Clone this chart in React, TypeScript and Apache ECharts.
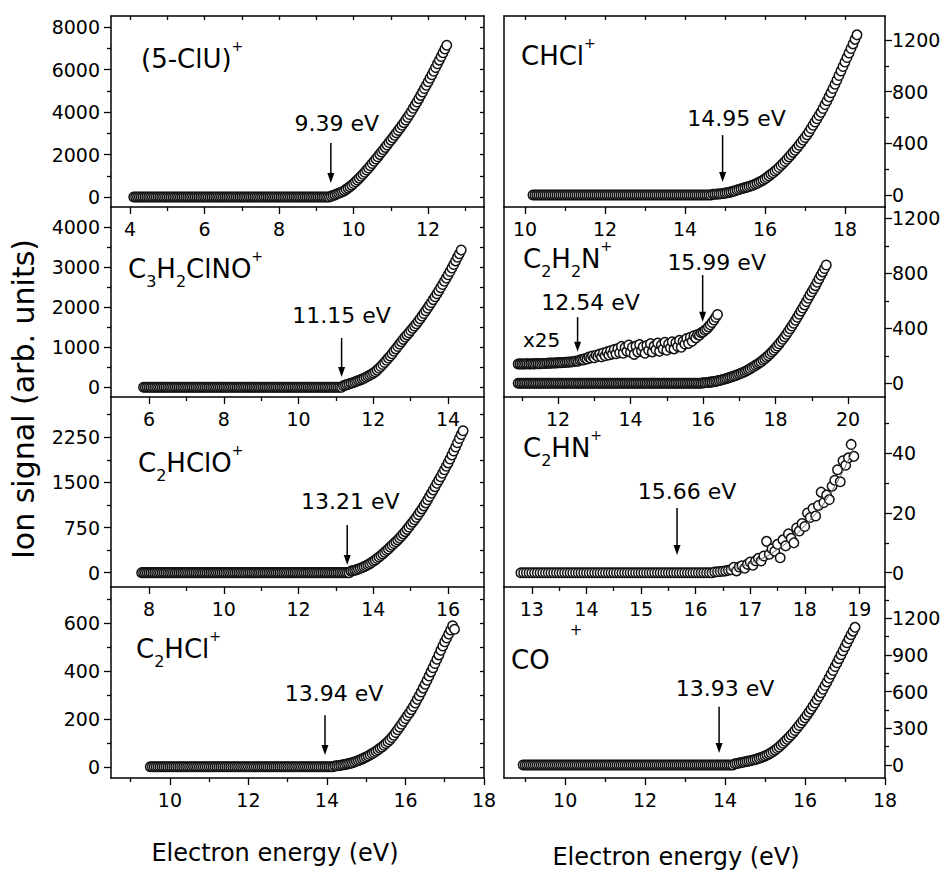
import React, { useEffect, useRef } from "react";
import * as echarts from "echarts";

const FONT = "DejaVu Sans";

// ===================== DATA =====================
// (5-ClU)+  — energy grid start / step (eV), signal values
const cluStart = 4.1;
const cluStep = 0.05;
const cluSignal = [
  0,0,0,0,0,0,0,0,0,0, 0,0,0,0,0,0,0,0,0,0,
  0,0,0,0,0,0,0,0,0,0, 0,0,0,0,0,0,0,0,0,0,
  0,0,0,0,0,0,0,0,0,0, 0,0,0,0,0,0,0,0,0,0,
  0,0,0,0,0,0,0,0,0,0, 0,0,0,0,0,0,0,0,0,0,
  0,0,0,0,0,0,0,0,0,0, 0,0,0,0,0,0,0,0,0,0,
  0,0,0,0,0,0,
  40, 70, 100, 140, 180, 215, 250, 300, 360, 420,
  490, 560, 640, 720, 800, 890, 980, 1075, 1170, 1270,
  1370, 1475, 1580, 1685, 1790, 1900, 2010, 2120, 2230, 2340,
  2450, 2565, 2680, 2795, 2910, 3025, 3140, 3260, 3380, 3505,
  3630, 3760, 3890, 4030, 4180, 4330, 4480, 4635, 4790, 4950,
  5110, 5270, 5430, 5595, 5760, 5930, 6100, 6275, 6450, 6625,
  6800, 6975, 7150,
];

// C3H2ClNO+
const c3Start = 5.85;
const c3Step = 0.05;
const c3Signal = [
  0,0,0,0,0,0,0,0,0,0, 0,0,0,0,0,0,0,0,0,0,
  0,0,0,0,0,0,0,0,0,0, 0,0,0,0,0,0,0,0,0,0,
  0,0,0,0,0,0,0,0,0,0, 0,0,0,0,0,0,0,0,0,0,
  0,0,0,0,0,0,0,0,0,0, 0,0,0,0,0,0,0,0,0,0,
  0,0,0,0,0,0,0,0,0,0, 0,0,0,0,0,0,0,0,0,0,
  0,0,0,0,0,0,0,
  40, 55, 70, 85, 100, 115, 132, 150, 168, 185,
  205, 225, 250, 275, 300, 325, 355, 390, 430, 475,
  520, 570, 620, 675, 730, 785, 840, 900, 960, 1020,
  1080, 1140, 1198, 1255, 1310, 1365, 1420, 1475, 1532, 1590,
  1650, 1715, 1780, 1845, 1912, 1980, 2050, 2120, 2192, 2265,
  2340, 2415, 2492, 2570, 2650, 2730, 2812, 2895, 2982, 3070,
  3160, 3250, 3340, 3430,
];

// C2HClO+
const c2hcloStart = 7.8;
const c2hcloStep = 0.05;
const c2hcloSignal = [
  0,0,0,0,0,0,0,0,0,0, 0,0,0,0,0,0,0,0,0,0,
  0,0,0,0,0,0,0,0,0,0, 0,0,0,0,0,0,0,0,0,0,
  0,0,0,0,0,0,0,0,0,0, 0,0,0,0,0,0,0,0,0,0,
  0,0,0,0,0,0,0,0,0,0, 0,0,0,0,0,0,0,0,0,0,
  0,0,0,0,0,0,0,0,0,0, 0,0,0,0,0,0,0,0,0,0,
  0,0,0,0,0,0,0,0,0,0, 0,0,
  25, 32, 40, 50, 60, 72, 85, 100, 115, 132,
  150, 170, 190, 212, 235, 260, 285, 312, 340, 368,
  395, 425, 455, 485, 515, 545, 575, 610, 645, 682,
  720, 760, 800, 840, 880, 922, 965, 1012, 1060, 1110,
  1160, 1212, 1265, 1320, 1375, 1430, 1485, 1540, 1595, 1652,
  1710, 1768, 1825, 1890, 1955, 2022, 2090, 2160, 2230, 2295,
  2360,
];

// C2HCl+
const c2hclStart = 9.5;
const c2hclStep = 0.05;
const c2hclSignal = [
  0,0,0,0,0,0,0,0,0,0, 0,0,0,0,0,0,0,0,0,0,
  0,0,0,0,0,0,0,0,0,0, 0,0,0,0,0,0,0,0,0,0,
  0,0,0,0,0,0,0,0,0,0, 0,0,0,0,0,0,0,0,0,0,
  0,0,0,0,0,0,0,0,0,0, 0,0,0,0,0,0,0,0,0,0,
  0,0,0,0,0,0,0,0,0,0, 0,0,0,0,
  3, 4, 5, 6, 8, 9, 11, 13, 15, 17,
  20, 23, 26, 29, 33, 37, 41, 45, 50, 55,
  60, 65, 71, 77, 83, 90, 97, 105, 113, 122,
  132, 143, 155, 166, 178, 190, 202, 214, 226, 239,
  252, 267, 282, 297, 313, 329, 345, 362, 380, 397,
  414, 432, 450, 468, 487, 505, 523, 539, 555, 572,
  590, 575,
];

// CHCl+
const chclStart = 10.2;
const chclStep = 0.05;
const chclSignal = [
  0,0,0,0,0,0,0,0,0,0, 0,0,0,0,0,0,0,0,0,0,
  0,0,0,0,0,0,0,0,0,0, 0,0,0,0,0,0,0,0,0,0,
  0,0,0,0,0,0,0,0,0,0, 0,0,0,0,0,0,0,0,0,0,
  0,0,0,0,0,0,0,0,0,0, 0,0,0,0,0,0,0,0,0,0,
  0,0,0,0,0,0,0,0,0,0,
  5, 6, 7, 8, 10, 12, 14, 17, 20, 24,
  28, 33, 38, 43, 48, 52, 57, 61, 66, 71,
  76, 83, 90, 98, 106, 115, 125, 136, 148, 160,
  172, 185, 198, 213, 228, 244, 260, 277, 295, 312,
  330, 347, 365, 385, 405, 425, 445, 467, 490, 515,
  540, 565, 590, 615, 640, 670, 700, 730, 760, 792,
  825, 857, 890, 925, 960, 995, 1030, 1065, 1100, 1135,
  1170, 1205, 1240,
];

// C2H2N+ (main) and x25 magnified trace
const c2h2nStart = 10.9;
const c2h2nStep = 0.05;
const c2h2nSignal = [
  0,0,0,0,0,0,0,0,0,0, 0,0,0,0,0,0,0,0,0,0,
  0,0,0,0,0,0,0,0,0,0, 0,0,0,0,0,0,0,0,0,0,
  0,0,0,0,0,0,0,0,0,0, 0,0,0,0,0,0,0,0,0,0,
  0,0,0,0,0,0,0,0,0,0, 0,0,0,0,0,0,0,0,0,0,
  0,0,0,0,0,0,0,0,0,0, 0,0,0,0,0,0,0,0,0,0,
  0,0,
  3, 4, 5, 6, 8, 10, 12, 14, 17, 20,
  23, 27, 31, 35, 39, 43, 48, 52, 57, 62,
  67, 72, 78, 84, 91, 98, 106, 114, 122, 130,
  139, 148, 157, 167, 178, 189, 201, 214, 227, 241,
  256, 271, 287, 303, 320, 338, 357, 376, 396, 416,
  437, 458, 480, 502, 525, 547, 570, 594, 618, 642,
  666, 688, 710, 735, 760, 785, 810, 835, 860,
];
const c2h2nX25Start = 10.9;
const c2h2nX25Step = 0.05;
const c2h2nX25Signal = [
  140, 141, 140, 140, 141, 142, 140, 141, 142, 141,
  143, 142, 142, 143, 144, 144, 145, 146, 146, 147,
  147, 148, 149, 150, 150, 151, 152, 153, 154, 155,
  156, 158, 162, 160, 168, 172, 170, 180, 176, 190,
  184, 198, 186, 204, 195, 212, 192, 220, 200, 228,
  205, 236, 212, 245, 215, 252, 222, 268, 218, 260,
  232, 278, 225, 262, 210, 270, 228, 282, 236, 265,
  218, 275, 240, 288, 228, 270, 246, 292, 232, 278,
  250, 298, 240, 285, 258, 302, 250, 295, 268, 312,
  262, 305, 285, 325, 290, 335, 305, 345, 330, 355,
  350, 368, 372, 385, 395, 410, 425, 442, 460, 480,
  500,
];

// C2HN+
const c2hnStart = 12.8;
const c2hnStep = 0.05;
const c2hnSignal = [
  0,0,0,0,0,0,0,0,0,0, 0,0,0,0,0,0,0,0,0,0,
  0,0,0,0,0,0,0,0,0,0, 0,0,0,0,0,0,0,0,0,0,
  0,0,0,0,0,0,0,0,0,0, 0,0,0,0,0,0,0,0,0,0,
  0,0,0,0,0,0,0,0,0,0, 0,
  0.2, 0.3, 0.4, 0.5, 0.6, 0.8, 1.0, 1.8, 0.6, 1.9,
  2.3, 1.5, 2.8, 3.6, 2.5, 4.0, 4.8, 3.9, 5.6, 10.5,
  6.2, 8.0, 7.2, 9.5, 5.0, 11.0, 9.0, 13.0, 11.5, 10.0,
  15.0, 14.0, 16.5, 15.5, 20.0, 18.5, 21.5, 19.0, 22.5, 27.0,
  23.5, 26.0, 24.5, 29.0, 31.0, 34.5, 30.5, 37.5, 36.0, 38.5,
  43.0, 39.0,
];
const c2hnFitE = [16.0, 16.5, 17.0, 17.5, 18.0, 18.5, 18.9];
const c2hnFitY = [0, 0.8, 3.2, 7.8, 15.8, 27.5, 42];

// CO+
const coStart = 8.95;
const coStep = 0.05;
const coSignal = [
  0,0,0,0,0,0,0,0,0,0, 0,0,0,0,0,0,0,0,0,0,
  0,0,0,0,0,0,0,0,0,0, 0,0,0,0,0,0,0,0,0,0,
  0,0,0,0,0,0,0,0,0,0, 0,0,0,0,0,0,0,0,0,0,
  0,0,0,0,0,0,0,0,0,0, 0,0,0,0,0,0,0,0,0,0,
  0,0,0,0,0,0,0,0,0,0, 0,0,0,0,0,0,0,0,0,0,
  0,0,0,0,0,0,
  10, 13, 17, 20, 23, 27, 30, 33, 37, 41,
  45, 50, 55, 61, 67, 74, 82, 91, 100, 111,
  122, 135, 148, 163, 178, 194, 210, 227, 245, 264,
  283, 303, 323, 344, 365, 387, 410, 433, 457, 482,
  508, 535, 562, 591, 620, 650, 680, 711, 742, 773,
  805, 837, 870, 902, 935, 967, 1000, 1032, 1065, 1095,
  1126,
];

// ===================== TICKS =====================
const cluXTicks = [4, 6, 8, 10, 12];
const cluXMinor = [5, 7, 9, 11, 13];
const cluYTicks = [0, 2000, 4000, 6000, 8000];
const cluYMinor = [1000, 3000, 5000, 7000];

const c3XTicks = [6, 8, 10, 12, 14];
const c3XMinor = [7, 9, 11, 13];
const c3YTicks = [0, 1000, 2000, 3000, 4000];
const c3YMinor = [500, 1500, 2500, 3500];

const c2hcloXTicks = [8, 10, 12, 14, 16];
const c2hcloXMinor = [9, 11, 13, 15];
const c2hcloYTicks = [0, 750, 1500, 2250];
const c2hcloYMinor = [375, 1125, 1875, 2625];

const c2hclXTicks = [10, 12, 14, 16, 18];
const c2hclXMinor = [9, 11, 13, 15, 17];
const c2hclYTicks = [0, 200, 400, 600];
const c2hclYMinor = [100, 300, 500, 700];

const chclXTicks = [10, 12, 14, 16, 18];
const chclXMinor = [11, 13, 15, 17];
const chclYTicks = [0, 400, 800, 1200];
const chclYMinor = [200, 600, 1000];

const c2h2nXTicks = [12, 14, 16, 18, 20];
const c2h2nXMinor = [11, 13, 15, 17, 19];
const c2h2nYTicks = [0, 400, 800, 1200];
const c2h2nYMinor = [200, 600, 1000];

const c2hnXTicks = [13, 14, 15, 16, 17, 18, 19];
const c2hnXMinor = [13.5, 14.5, 15.5, 16.5, 17.5, 18.5];
const c2hnYTicks = [0, 20, 40];
const c2hnYMinor = [10, 30, 50];

const coXTicks = [10, 12, 14, 16, 18];
const coXMinor = [9, 11, 13, 15, 17];
const coYTicks = [0, 300, 600, 900, 1200];
const coYMinor = [150, 450, 750, 1050, 1350];

// ===================== ANNOTATIONS (data coords) =====================
const cluArrows = [{ x: 9.39, top: 2540, bottom: 660, text: "9.39 eV", dx: 6, dy: -20 }];
const c3Arrows = [{ x: 11.15, top: 1232, bottom: 258, text: "11.15 eV", dx: 0, dy: -23 }];
const c2hcloArrows = [{ x: 13.3, top: 793, bottom: 128, text: "13.21 eV", dx: 3, dy: -23 }];
const c2hclArrows = [{ x: 13.95, top: 216, bottom: 49, text: "13.94 eV", dx: 9, dy: -22 }];
const chclArrows = [{ x: 14.94, top: 464, bottom: 100, text: "14.95 eV", dx: 14, dy: -17 }];
const c2h2nArrows = [
  { x: 15.99, top: 787, bottom: 448, text: "15.99 eV", dx: 14, dy: -13 },
  { x: 12.54, top: 482, bottom: 230, text: "12.54 eV", dx: 13, dy: -14 },
];
const c2hnArrows = [{ x: 15.66, top: 21.7, bottom: 5.9, text: "15.66 eV", dx: 10, dy: -16 }];
const coArrows = [{ x: 13.85, top: 477, bottom: 98, text: "13.93 eV", dx: 6, dy: -18 }];

// ===================== LAYOUT =====================
const COL_LEFT = [111, 504];
const COL_W = [373, 381];
const ROW_TOP = [16, 207, 397, 587];
const ROW_H = [191, 190, 190, 191];

type Arrow = { x: number; top: number; bottom: number; text: string; dx: number; dy: number };
type Trace = { start: number; step: number; values: number[] };
type Panel = {
  col: number;
  row: number;
  xRange: [number, number];
  xTicks: number[];
  xMinor: number[];
  yRange: [number, number];
  yTicks: number[];
  yMinor: number[];
  traces: Trace[];
  fit?: { x: number[]; y: number[] };
  label: string;
  labelPos: [number, number];
  arrows: Arrow[];
};

const panels: Panel[] = [
  {
    col: 0, row: 0, xRange: [3.49, 13.5], xTicks: cluXTicks, xMinor: cluXMinor,
    yRange: [-470, 8530], yTicks: cluYTicks, yMinor: cluYMinor,
    traces: [{ start: cluStart, step: cluStep, values: cluSignal }],
    label: "(5-ClU){p|+}", labelPos: [141, 59], arrows: cluArrows,
  },
  {
    col: 0, row: 1, xRange: [4.98, 14.96], xTicks: c3XTicks, xMinor: c3XMinor,
    yRange: [-242, 4507], yTicks: c3YTicks, yMinor: c3YMinor,
    traces: [{ start: c3Start, step: c3Step, values: c3Signal }],
    label: "C{b|3}H{b|2}ClNO{p|+}", labelPos: [128, 269], arrows: c3Arrows,
  },
  {
    col: 0, row: 2, xRange: [6.98, 16.96], xTicks: c2hcloXTicks, xMinor: c2hcloXMinor,
    yRange: [-238, 2920], yTicks: c2hcloYTicks, yMinor: c2hcloYMinor,
    traces: [{ start: c2hcloStart, step: c2hcloStep, values: c2hcloSignal }],
    label: "C{b|2}HClO{p|+}", labelPos: [138, 463], arrows: c2hcloArrows,
  },
  {
    col: 0, row: 3, xRange: [8.5, 18], xTicks: c2hclXTicks, xMinor: c2hclXMinor,
    yRange: [-47, 752], yTicks: c2hclYTicks, yMinor: c2hclYMinor,
    traces: [{ start: c2hclStart, step: c2hclStep, values: c2hclSignal }],
    label: "C{b|2}HCl{p|+}", labelPos: [136, 649], arrows: c2hclArrows,
  },
  {
    col: 1, row: 0, xRange: [9.475, 19.0], xTicks: chclXTicks, xMinor: chclXMinor,
    yRange: [-93, 1386], yTicks: chclYTicks, yMinor: chclYMinor,
    traces: [{ start: chclStart, step: chclStep, values: chclSignal }],
    label: "CHCl{p|+}", labelPos: [521, 56], arrows: chclArrows,
  },
  {
    col: 1, row: 1, xRange: [10.51, 21.02], xTicks: c2h2nXTicks, xMinor: c2h2nXMinor,
    yRange: [-100, 1282], yTicks: c2h2nYTicks, yMinor: c2h2nYMinor,
    traces: [
      { start: c2h2nStart, step: c2h2nStep, values: c2h2nSignal },
      { start: c2h2nX25Start, step: c2h2nX25Step, values: c2h2nX25Signal },
    ],
    label: "C{b|2}H{b|2}N{p|+}", labelPos: [523, 259], arrows: c2h2nArrows,
  },
  {
    col: 1, row: 2, xRange: [12.49, 19.47], xTicks: c2hnXTicks, xMinor: c2hnXMinor,
    yRange: [-4.8, 58.9], yTicks: c2hnYTicks, yMinor: c2hnYMinor,
    traces: [{ start: c2hnStart, step: c2hnStep, values: c2hnSignal }],
    fit: { x: c2hnFitE, y: c2hnFitY },
    label: "C{b|2}HN{p|+}", labelPos: [523, 448], arrows: c2hnArrows,
  },
  {
    col: 1, row: 3, xRange: [8.47, 18.0], xTicks: coXTicks, xMinor: coXMinor,
    yRange: [-106, 1456], yTicks: coYTicks, yMinor: coYMinor,
    traces: [{ start: coStart, step: coStep, values: coSignal }],
    label: "CO", labelPos: [511, 660], arrows: coArrows,
  },
];

function pairs(t: Trace) {
  return t.values.map((v, i) => [Math.round((t.start + i * t.step) * 1000) / 1000, v]);
}

const fmt = (v: number) => String(v);
const LINE = { color: "#000", width: 1.5 };
const TICK = { color: "#000", width: 1.3 };
const LABEL = { fontFamily: FONT, fontSize: 19, color: "#000" };

function buildOption() {
  const grid: any[] = [];
  const xAxis: any[] = [];
  const yAxis: any[] = [];
  const series: any[] = [];
  const mainSeries: number[] = [];

  panels.forEach((p, g) => {
    grid.push({ left: COL_LEFT[p.col], width: COL_W[p.col], top: ROW_TOP[p.row], height: ROW_H[p.row] });
    const xMain = xAxis.length;
    xAxis.push({
      type: "value", gridIndex: g, position: "bottom", min: p.xRange[0], max: p.xRange[1],
      axisLine: { show: true, onZero: false, lineStyle: LINE },
      axisTick: { show: true, inside: false, length: 7, customValues: p.xTicks, lineStyle: TICK },
      axisLabel: { show: true, customValues: p.xTicks, formatter: fmt, margin: 12, ...LABEL },
      splitLine: { show: false },
    });
    xAxis.push({
      type: "value", gridIndex: g, position: "bottom", min: p.xRange[0], max: p.xRange[1],
      axisLine: { show: false, onZero: false },
      axisTick: { show: true, inside: false, length: 4, customValues: p.xMinor, lineStyle: TICK },
      axisLabel: { show: false },
      splitLine: { show: false },
    });
    if (p.row === 0) {
      xAxis.push({
        type: "value", gridIndex: g, position: "top", min: p.xRange[0], max: p.xRange[1],
        axisLine: { show: true, onZero: false, lineStyle: LINE },
        axisTick: { show: true, inside: true, length: 4, customValues: [...p.xTicks, ...p.xMinor], lineStyle: TICK },
        axisLabel: { show: false },
        splitLine: { show: false },
      });
    }
    const side = p.col === 0 ? "left" : "right";
    const other = p.col === 0 ? "right" : "left";
    const yMain = yAxis.length;
    yAxis.push({
      type: "value", gridIndex: g, position: side, min: p.yRange[0], max: p.yRange[1],
      axisLine: { show: true, onZero: false, lineStyle: LINE },
      axisTick: { show: true, inside: false, length: 7, customValues: p.yTicks, lineStyle: TICK },
      axisLabel: { show: true, customValues: p.yTicks, formatter: fmt, margin: p.col === 0 ? 11 : 7, ...LABEL },
      splitLine: { show: false },
    });
    yAxis.push({
      type: "value", gridIndex: g, position: side, min: p.yRange[0], max: p.yRange[1],
      axisLine: { show: false, onZero: false },
      axisTick: { show: true, inside: false, length: 4, customValues: p.yMinor, lineStyle: TICK },
      axisLabel: { show: false },
      splitLine: { show: false },
    });
    yAxis.push({
      type: "value", gridIndex: g, position: other, min: p.yRange[0], max: p.yRange[1],
      axisLine: { show: true, onZero: false, lineStyle: LINE },
      axisTick: p.col === 0
        ? { show: true, inside: true, length: 4, customValues: [...p.yTicks, ...p.yMinor], lineStyle: TICK }
        : { show: false },
      axisLabel: { show: false },
      splitLine: { show: false },
    });

    p.traces.forEach((t, ti) => {
      if (ti === 0) mainSeries.push(series.length);
      series.push({
        type: "scatter", xAxisIndex: xMain, yAxisIndex: yMain,
        data: pairs(t), symbol: "circle", symbolSize: 9.5,
        itemStyle: { color: "#ffffff", borderColor: "#111111", borderWidth: 1.5, opacity: 1 },
        emphasis: { disabled: true }, silent: true, z: 3, large: false,
      });
    });
    if (p.fit) {
      series.push({
        type: "line", xAxisIndex: xMain, yAxisIndex: yMain,
        data: p.fit.x.map((x, i) => [x, p.fit!.y[i]]), smooth: true, showSymbol: false, symbol: "none",
        lineStyle: { color: "#666", width: 1 }, silent: true, z: 4,
      });
    }
  });

  return {
    option: {
      animation: false,
      backgroundColor: "#ffffff",
      grid, xAxis, yAxis, series,
    },
    mainSeries,
  };
}

const RICH = {
  b: { fontFamily: FONT, fontSize: 16, lineHeight: 16, verticalAlign: "bottom", fill: "#000" },
  p: { fontFamily: FONT, fontSize: 14, lineHeight: 20, verticalAlign: "top", fill: "#000" },
};

export default function App() {
  const ref = useRef<HTMLDivElement>(null);
  useEffect(() => {
    if (!ref.current) return;
    const chart = echarts.init(ref.current, undefined, { renderer: "svg" });
    const { option, mainSeries } = buildOption();
    chart.setOption(option as any);

    const els: any[] = [];
    panels.forEach((p, i) => {
      const sIdx = mainSeries[i];
      p.arrows.forEach((a) => {
        const t = chart.convertToPixel({ seriesIndex: sIdx }, [a.x, a.top]) as number[];
        const b = chart.convertToPixel({ seriesIndex: sIdx }, [a.x, a.bottom]) as number[];
        els.push({
          type: "line", z: 20,
          shape: { x1: t[0], y1: t[1], x2: b[0], y2: b[1] - 8 },
          style: { stroke: "#000", lineWidth: 1.5 },
        });
        els.push({
          type: "polygon", z: 20,
          shape: { points: [[b[0] - 3.5, b[1] - 10], [b[0] + 3.5, b[1] - 10], [b[0], b[1]]] },
          style: { fill: "#000" },
        });
        els.push({
          type: "text", z: 20, x: t[0] + a.dx, y: t[1] + a.dy,
          style: { text: a.text, fontFamily: FONT, fontSize: 22, fill: "#000", align: "center", verticalAlign: "middle" },
        });
      });
      els.push({
        type: "text", z: 20, x: p.labelPos[0], y: p.labelPos[1],
        style: {
          text: p.label, fontFamily: FONT, fontSize: 26, lineHeight: 40, fill: "#000",
          align: "left", verticalAlign: "middle", rich: RICH,
        },
      });
    });
    // stray superscript of CO+ as in the original
    els.push({
      type: "text", z: 20, x: 576, y: 630,
      style: { text: "+", fontFamily: FONT, fontSize: 15, fill: "#000000", align: "center", verticalAlign: "middle" },
    });
    // magnification note
    els.push({
      type: "text", z: 20, x: 523, y: 340,
      style: { text: "x25", fontFamily: FONT, fontSize: 20, fill: "#000", align: "left", verticalAlign: "middle" },
    });
    // axis titles
    els.push({
      type: "text", z: 20, x: 275, y: 853,
      style: { text: "Electron energy (eV)", fontFamily: FONT, fontSize: 24, fill: "#000", align: "center", verticalAlign: "middle" },
    });
    els.push({
      type: "text", z: 20, x: 676, y: 857,
      style: { text: "Electron energy (eV)", fontFamily: FONT, fontSize: 24, fill: "#000", align: "center", verticalAlign: "middle" },
    });
    els.push({
      type: "text", z: 20, x: 23, y: 399, rotation: Math.PI / 2,
      style: { text: "Ion signal (arb. units)", fontFamily: FONT, fontSize: 30, fill: "#000", align: "center", verticalAlign: "middle" },
    });

    chart.setOption({ graphic: { elements: els } } as any);
    return () => chart.dispose();
  }, []);

  return (
    <div
      ref={ref}
      style={{ position: "absolute", left: 0, top: 0, width: 947, height: 870, background: "#fff" }}
    />
  );
}
